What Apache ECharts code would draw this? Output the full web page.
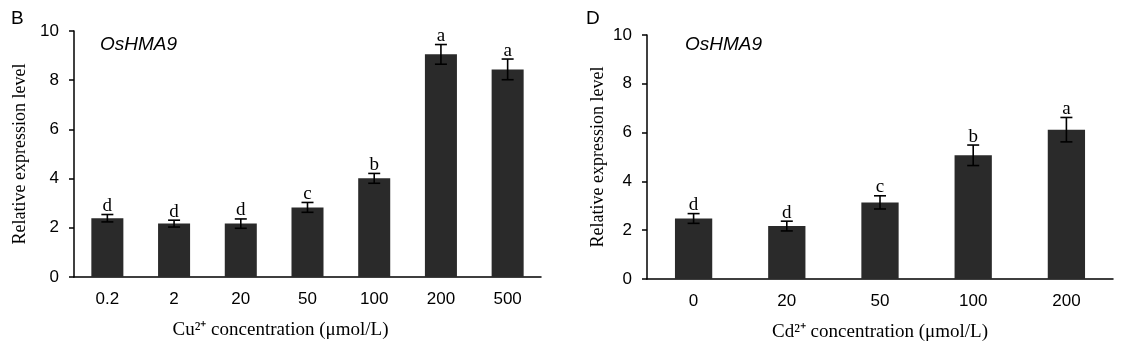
<!DOCTYPE html>
<html lang="en">
<head>
  <meta charset="UTF-8">
  <title>OsHMA9 expression</title>
  <style>
    html, body { margin: 0; padding: 0; background: #fff; }
  </style>
</head>
<body>
  <div class="main" style="width: 1138px;height:354px;"></div>

  <script src="https://cdn.jsdelivr.net/npm/echarts@6/dist/echarts.min.js"></script>
  <script>
    // data
    const cuCats = ['0.2', '2', '20', '50', '100', '200', '500']
    const cuMeans = [2.39, 2.17, 2.17, 2.83, 4.01, 9.05, 8.44]
    const cuErrs = [0.15, 0.14, 0.19, 0.2, 0.2, 0.4, 0.42]
    const cuLetters = ['d', 'd', 'd', 'c', 'b', 'a', 'a']

    const cdCats = ['0', '20', '50', '100', '200']
    const cdMeans = [2.48, 2.17, 3.14, 5.07, 6.12]
    const cdErrs = [0.2, 0.2, 0.27, 0.42, 0.5]
    const cdLetters = ['d', 'd', 'c', 'b', 'a']

    const yTicks = [0, 2, 4, 6, 8, 10]

    const myChart = echarts.init(document.querySelector('.main'))

    const sans = '"Liberation Sans", Arial, sans-serif'
    const serif = '"Liberation Serif", "Times New Roman", serif'
    const barColor = '#2a2a2a'

    // error bar + significance letter
    const makeErr = (letters) => (params, api) => {
      const i = params.dataIndex
      const v = api.value(1), e = api.value(2)
      const top = api.coord([i, v + e])
      const bot = api.coord([i, v - e])
      const c = 6
      const ls = { stroke: '#000', lineWidth: 1.6 }
      return {
        type: 'group',
        children: [
          { type: 'line', shape: { x1: top[0], y1: top[1], x2: bot[0], y2: bot[1] }, style: ls },
          { type: 'line', shape: { x1: top[0] - c, y1: top[1], x2: top[0] + c, y2: top[1] }, style: ls },
          { type: 'line', shape: { x1: bot[0] - c, y1: bot[1], x2: bot[0] + c, y2: bot[1] }, style: ls },
          {
            type: 'text',
            style: {
              text: letters[i], x: top[0], y: top[1] + 1,
              align: 'center', verticalAlign: 'bottom',
              fontSize: 19, fontFamily: serif, fill: '#000'
            }
          }
        ]
      }
    }

    const yAxisOpt = (gridIndex, gap) => ({
      type: 'value',
      gridIndex: gridIndex,
      min: 0, max: 10, interval: 2,
      name: 'Relative expression level',
      nameLocation: 'middle',
      nameGap: gap,
      nameTextStyle: { fontFamily: serif, fontSize: 18, color: '#000' },
      axisLine: { show: true, lineStyle: { color: '#000', width: 1.5 } },
      axisTick: { show: true, length: 5, lineStyle: { color: '#000', width: 1.5 } },
      axisLabel: {
        margin: 15, fontFamily: sans, fontSize: 17, color: '#000',
        formatter: (v) => yTicks.includes(v) ? String(v) : ''
      },
      splitLine: { show: false }
    })

    const xAxisOpt = (gridIndex, cats, name, pad) => ({
      type: 'category',
      gridIndex: gridIndex,
      data: cats,
      name: name,
      nameLocation: 'middle',
      nameGap: 44,
      nameTextStyle: { fontFamily: serif, fontSize: 19, color: '#000', padding: [0, pad, 0, 0] },
      axisLine: { show: true, lineStyle: { color: '#000', width: 1.5 } },
      axisTick: { show: true, inside: true, alignWithLabel: true, length: 4, lineStyle: { color: '#000', width: 1.5 } },
      axisLabel: { margin: 14, fontFamily: sans, fontSize: 17, color: '#000' }
    })

    const option = {
      animation: false,
      grid: [
        { left: 74, top: 31, width: 467, height: 246 },
        { left: 647, top: 35, width: 466, height: 244 }
      ],
      xAxis: [
        xAxisOpt(0, cuCats, 'Cu²⁺ concentration (μmol/L)', 54),
        xAxisOpt(1, cdCats, 'Cd²⁺ concentration (μmol/L)', 0)
      ],
      yAxis: [yAxisOpt(0, 45), yAxisOpt(1, 40)],
      graphic: [
        { type: 'text', left: 11, top: 9, style: { text: 'B', fontFamily: sans, fontSize: 19, fill: '#000' } },
        { type: 'text', left: 586, top: 9, style: { text: 'D', fontFamily: sans, fontSize: 19, fill: '#000' } },
        { type: 'text', left: 100, top: 35, style: { text: 'OsHMA9', fontFamily: sans, fontStyle: 'italic', fontSize: 19, fill: '#000' } },
        { type: 'text', left: 685, top: 35, style: { text: 'OsHMA9', fontFamily: sans, fontStyle: 'italic', fontSize: 19, fill: '#000' } }
      ],
      series: [
        {
          type: 'bar', xAxisIndex: 0, yAxisIndex: 0,
          data: cuMeans, barWidth: '48%',
          itemStyle: { color: barColor }
        },
        {
          type: 'custom', xAxisIndex: 0, yAxisIndex: 0,
          data: cuMeans.map((v, i) => [i, v, cuErrs[i]]),
          encode: { x: 0, y: 1 },
          renderItem: makeErr(cuLetters),
          z: 5
        },
        {
          type: 'bar', xAxisIndex: 1, yAxisIndex: 1,
          data: cdMeans, barWidth: '40%',
          itemStyle: { color: barColor }
        },
        {
          type: 'custom', xAxisIndex: 1, yAxisIndex: 1,
          data: cdMeans.map((v, i) => [i, v, cdErrs[i]]),
          encode: { x: 0, y: 1 },
          renderItem: makeErr(cdLetters),
          z: 5
        }
      ]
    }

    myChart.setOption(option)
  </script>
</body>
</html>
